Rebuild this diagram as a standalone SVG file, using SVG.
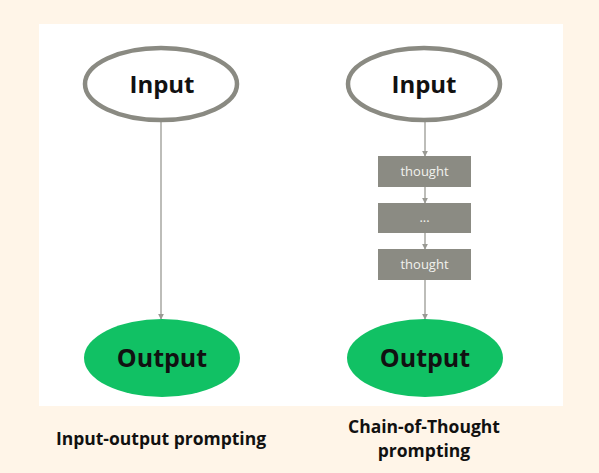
<svg xmlns="http://www.w3.org/2000/svg" width="599" height="473" viewBox="0 0 599 473">
<style>
.in{fill:#ffffff;stroke:#8a8a82;stroke-width:4.5}
.out{fill:#11c164;stroke:none}
.box{fill:#8b8b83}
.nt{font-family:"Open Sans","Liberation Sans",sans-serif;font-weight:700;font-size:24px;fill:#111;text-anchor:middle}
.ot{font-size:25px}
.bt{font-family:"Open Sans","Liberation Sans",sans-serif;font-size:13px;fill:#f2f2ee;text-anchor:middle}
.lab{font-family:"Open Sans","Liberation Sans",sans-serif;font-weight:700;font-size:17.5px;fill:#111;text-anchor:middle}
.c{stroke:#9a9a94;stroke-width:1.3;fill:none;marker-end:url(#a)}
</style>
<defs>
<marker id="a" viewBox="0 0 8 8" refX="7" refY="4" markerWidth="6" markerHeight="6" orient="auto" markerUnits="userSpaceOnUse">
<path d="M0,0 L8,4 L0,8 z" fill="#9a9a94"/>
</marker>
</defs>
<rect width="599" height="473" fill="#fff5e8"/>
<rect x="39" y="24" width="524" height="382" fill="#ffffff"/>
<g id="connectors">
<line class="c" x1="161" y1="122" x2="161" y2="319"/>
<line class="c" x1="425" y1="121" x2="425" y2="156"/>
<line class="c" x1="425" y1="187" x2="425" y2="203"/>
<line class="c" x1="425" y1="233" x2="425" y2="249"/>
<line class="c" x1="425" y1="280" x2="425" y2="319"/>
</g>
<g id="io-input"><ellipse class="in" cx="161" cy="84" rx="76" ry="36"/><text class="nt" x="162" y="93">Input</text></g>
<g id="io-output"><ellipse class="out" cx="162" cy="358" rx="78" ry="39"/><text class="nt ot" x="162" y="367">Output</text></g>
<g id="cot-input"><ellipse class="in" cx="424" cy="84" rx="76" ry="36"/><text class="nt" x="424" y="93">Input</text></g>
<g id="thought1"><rect class="box" x="378" y="156" width="93" height="31"/><text class="bt" x="424.5" y="176">thought</text></g>
<g id="thought2"><rect class="box" x="378" y="203" width="93" height="30"/><text class="bt" x="424.5" y="222">...</text></g>
<g id="thought3"><rect class="box" x="378" y="249" width="93" height="31"/><text class="bt" x="424.5" y="269">thought</text></g>
<g id="cot-output"><ellipse class="out" cx="425" cy="358" rx="78" ry="39"/><text class="nt ot" x="425" y="367">Output</text></g>
<g id="labels">
<text class="lab" x="161" y="445">Input-output prompting</text>
<text class="lab" x="424" y="433">Chain-of-Thought</text>
<text class="lab" x="424" y="457">prompting</text>
</g>
</svg>
